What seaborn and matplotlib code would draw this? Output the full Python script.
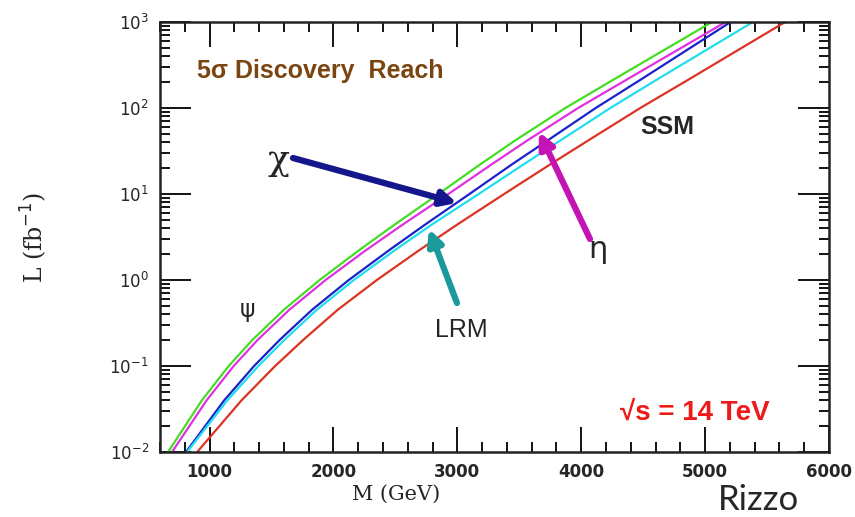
import numpy as np
import pandas as pd
import seaborn as sns
import matplotlib.pyplot as plt
from matplotlib.ticker import MultipleLocator, LogLocator, FixedLocator, NullFormatter

# Integrated luminosity needed for a 5 sigma discovery (fb^-1)
lumi = [0.01, 0.04, 0.1, 0.2, 0.45, 1, 2.2, 4.4, 10, 22, 42, 100, 210, 1000]

# Z' mass reach (GeV) for each model at the luminosities above
m_psi = [665, 939, 1155, 1345, 1600, 1890, 2205, 2495, 2850, 3185, 3470, 3875, 4255, 5060]
m_eta = [697, 977, 1195, 1387, 1644, 1938, 2260, 2560, 2930, 3277, 3568, 3978, 4361, 5170]
m_chi = [810, 1119, 1360, 1565, 1828, 2125, 2447, 2741, 3100, 3441, 3732, 4120, 4475, 5210]
m_lrm = [818, 1144, 1395, 1603, 1866, 2166, 2493, 2795, 3175, 3535, 3835, 4238, 4605, 5390]
m_ssm = [900, 1259, 1530, 1755, 2035, 2352, 2690, 3000, 3380, 3750, 4060, 4480, 4860, 5650]

models = ["psi", "eta", "chi", "LRM", "SSM"]
masses = [m_psi, m_eta, m_chi, m_lrm, m_ssm]
colors = {"psi": "#44dd22", "eta": "#e030e0", "chi": "#1a22cc",
          "LRM": "#22ddee", "SSM": "#dd3322"}

df = pd.concat(
    [pd.DataFrame({"M": m, "L": lumi, "model": name}) for name, m in zip(models, masses)],
    ignore_index=True,
)

sns.set_style("ticks")
fig = plt.figure(figsize=(8.55, 5.17), dpi=100)
ax = fig.add_axes([160 / 855, 1 - 452 / 517, (829 - 160) / 855, (452 - 21.7) / 517])

sns.lineplot(data=df, x="M", y="L", hue="model", palette=colors, sort=False,
             estimator=None, linewidth=1.6, legend=False, ax=ax)

ax.set_yscale("log")
ax.set_xlim(600, 6000)
ax.set_ylim(1e-2, 1e3)

# Axis ticks: inward on all four sides
ax.xaxis.set_major_locator(FixedLocator([1000, 2000, 3000, 4000, 5000, 6000]))
ax.xaxis.set_minor_locator(MultipleLocator(200))
ax.yaxis.set_major_locator(LogLocator(base=10, numticks=10))
ax.yaxis.set_minor_locator(LogLocator(base=10, subs=np.arange(2, 10), numticks=50))
ax.yaxis.set_minor_formatter(NullFormatter())
ax.tick_params(which="both", direction="in", top=True, right=True, width=1.3, color="black")
ax.tick_params(which="major", axis="x", length=18)
ax.tick_params(which="major", axis="y", length=22)
ax.tick_params(which="minor", length=7)
ax.tick_params(axis="x", which="major", pad=8, labelsize=12)
ax.tick_params(axis="y", which="major", pad=8, labelsize=12)
for lab in ax.get_xticklabels():
    lab.set_fontweight("bold")
    lab.set_family("DejaVu Sans")
for s in ax.spines.values():
    s.set_linewidth(1.8)
    s.set_color("#222222")

ax.set_xlabel("")
ax.set_ylabel("")


def fig_xy(px, py):
    return (px / 855, 1 - py / 517)


# Axis titles
fig.text(*fig_xy(396, 494), "M (GeV)", family="DejaVu Serif", fontsize=15,
         ha="center", va="center")
fig.text(*fig_xy(34, 238), "L (fb$^{-1}$)", family="DejaVu Serif", fontsize=17,
         rotation=90, ha="center", va="center")

# Text annotations
ax.text(0.056, 0.885, "5σ Discovery  Reach", transform=ax.transAxes, color="#7a4510",
        fontsize=18, fontweight="bold", family="Liberation Sans", va="center", ha="left")
ax.text(0.759, 0.755, "SSM", transform=ax.transAxes, fontsize=18, fontweight="bold",
        family="Liberation Sans", va="center", ha="center")
ax.text(0.131, 0.330, "ψ", transform=ax.transAxes, fontsize=17,
        family="DejaVu Sans", va="center", ha="center")
ax.text(0.80, 0.091, "√s = 14 TeV", transform=ax.transAxes, color="#ee1a1a",
        fontsize=20, fontweight="bold", family="Liberation Sans", va="center", ha="center")

# Model labels with arrows
fig.text(*fig_xy(278, 160), "χ", fontsize=26, family="DejaVu Serif", ha="center", va="center")
fig.text(*fig_xy(598, 250), "η", fontsize=22, family="DejaVu Sans", ha="center", va="center")
fig.text(*fig_xy(461, 330), "LRM", fontsize=18, family="Liberation Sans", ha="center", va="center")
fig.text(*fig_xy(758, 500), "Rizzo", fontsize=25, family="Lato", ha="center", va="center")

arrows = [((293, 158), (457, 203), "#16168c"),
          ((590, 239), (539, 132), "#c414b4"),
          ((457, 303), (429, 229), "#1a9a9a")]
for (x0, y0), (x1, y1), c in arrows:
    ax.annotate("", xy=fig_xy(x1, y1), xycoords="figure fraction",
                xytext=fig_xy(x0, y0), textcoords="figure fraction",
                arrowprops=dict(arrowstyle="-|>,head_length=0.9,head_width=0.45",
                                color=c, lw=4.5, shrinkA=0, shrinkB=0))

fig.savefig("out.png", dpi=100)
